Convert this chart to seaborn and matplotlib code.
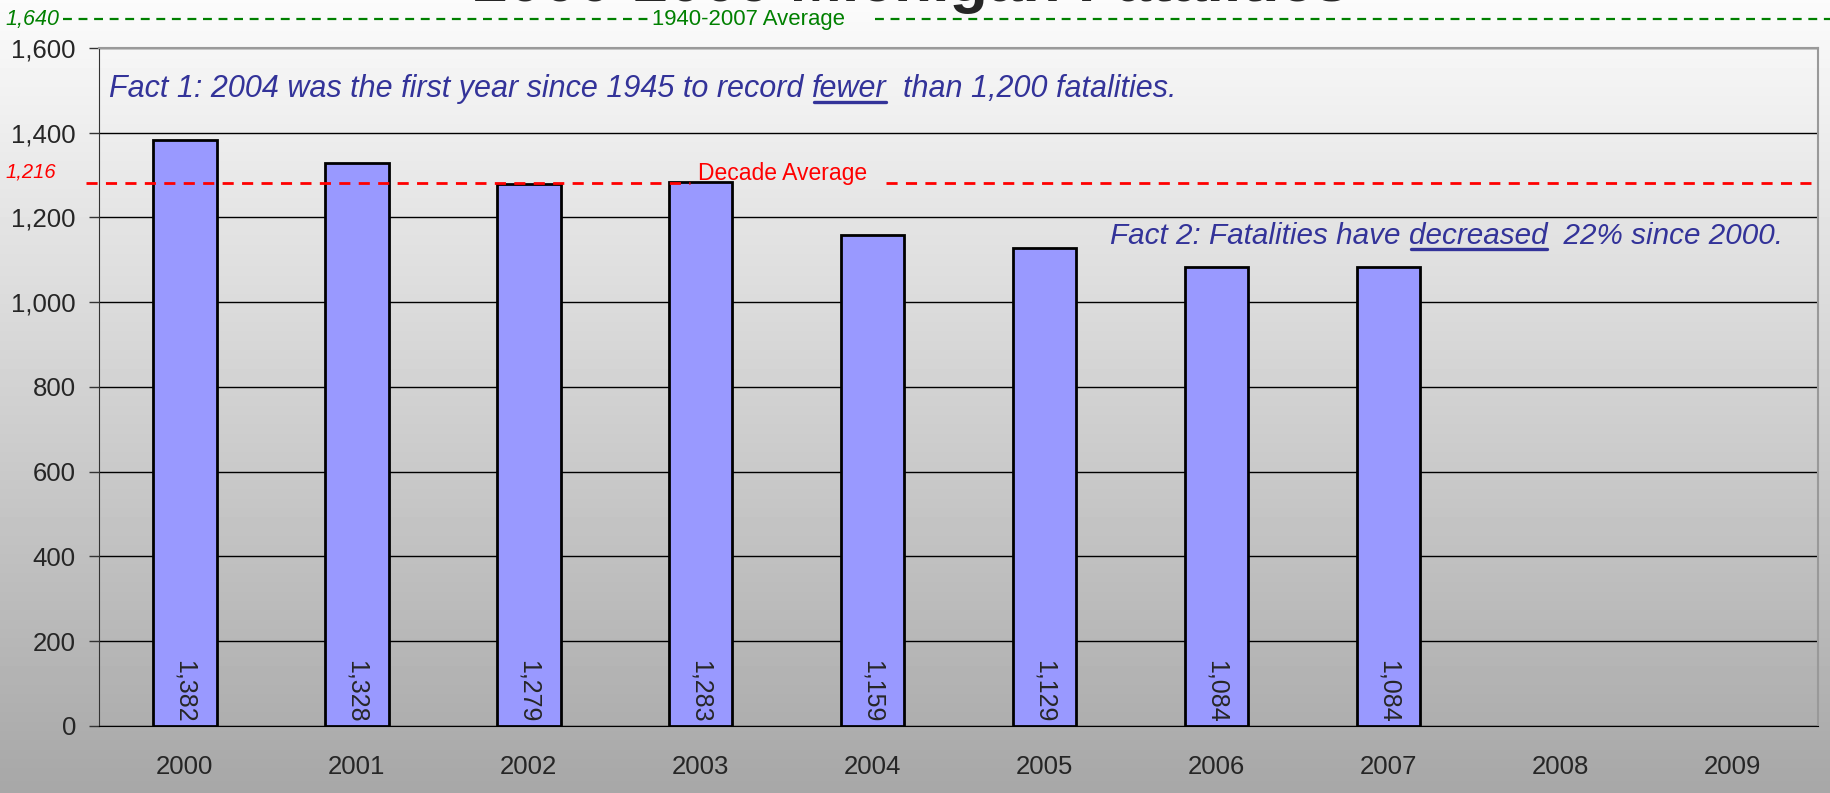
import numpy as np
import pandas as pd
import seaborn as sns
import matplotlib.pyplot as plt
from matplotlib.transforms import blended_transform_factory

# data
years = ["2000", "2001", "2002", "2003", "2004", "2005", "2006", "2007", "2008", "2009"]
fatalities = [1382, 1328, 1279, 1283, 1159, 1129, 1084, 1084, np.nan, np.nan]
bar_labels = ["1,382", "1,328", "1,279", "1,283", "1,159", "1,129", "1,084", "1,084", "", ""]
long_avg_level = 1668      # where the green line is drawn
long_avg_label = "1,640"
decade_avg_level = 1281    # where the red line is drawn
decade_avg_label = "1,216"
y_ticks = [0, 200, 400, 600, 800, 1000, 1200, 1400, 1600]

df = pd.DataFrame({"year": years, "fatalities": fatalities})

sns.set_style("white")
plt.rcParams["font.family"] = ["Liberation Sans", "DejaVu Sans"]

W, H = 1831, 793
fig = plt.figure(figsize=(W / 100, H / 100), dpi=100)

# gradient background over whole figure
bg = fig.add_axes([0, 0, 1, 1], zorder=-10)
grad = np.linspace(0.985, 0.655, 256).reshape(-1, 1)
bg.imshow(grad, aspect="auto", cmap="gray", vmin=0, vmax=1, extent=[0, 1, 0, 1])
bg.axis("off")

ax = fig.add_axes([0.054, 0.0845, 0.939, 0.855])
ax.set_facecolor("none")

sns.barplot(data=df, x="year", y="fatalities", order=years, color="#9999ff",
            saturation=1, width=0.37, edgecolor="black", linewidth=2, ax=ax, zorder=3)

ax.set_ylim(0, 1600)
ax.set_xlim(-0.5, 9.5)
ax.set_yticks(y_ticks)
ax.set_yticklabels([f"{v:,}" for v in y_ticks], fontsize=18.5)
ax.set_xticks(range(len(years)))
ax.set_xticklabels(years, fontsize=18.5)
ax.set_xticks(np.arange(-0.5, 10, 1), minor=True)
ax.tick_params(axis="x", which="major", length=0, pad=21)
ax.tick_params(axis="x", which="minor", length=7, width=1, color="#333333", direction="out")
ax.tick_params(axis="y", length=7, width=1, color="#333333", direction="out", left=True, pad=9.5)
ax.set_xlabel("")
ax.set_ylabel("")
ax.yaxis.grid(True, color="black", linewidth=1)
ax.set_axisbelow(True)
for side in ["top", "right"]:
    ax.spines[side].set_color("#999999")
    ax.spines[side].set_linewidth(1.5)
ax.spines["left"].set_color("#333333")
ax.spines["bottom"].set_color("black")

# value labels at the foot of each bar
for i, lab in enumerate(bar_labels):
    if lab:
        ax.text(i, 8, lab, rotation=270, ha="center", va="bottom", fontsize=18, zorder=5)

# reference lines
trans = blended_transform_factory(fig.transFigure, ax.transData)
dash = dict(linestyle=(0, (4, 3)), clip_on=False, transform=trans, zorder=4)
ax.plot([0.0344, 0.354], [long_avg_level] * 2, color="green", linewidth=1.6, **dash)
ax.plot([0.478, 1.0], [long_avg_level] * 2, color="green", linewidth=1.6, **dash)
ax.text(0.356, long_avg_level, "1940-2007 Average", color="green", fontsize=15.9,
        ha="left", va="center", transform=trans)
ax.text(0.003, long_avg_level, long_avg_label, color="green", fontsize=15.5, style="italic",
        ha="left", va="center", transform=trans)

ax.plot([0.047, 0.377], [decade_avg_level] * 2, color="red", linewidth=2, **dash)
ax.plot([0.484, 0.993], [decade_avg_level] * 2, color="red", linewidth=2, **dash)
ax.text(0.381, decade_avg_level - 5, "Decade Average", color="red", fontsize=16.5,
        ha="left", va="bottom", transform=trans)
ax.text(0.003, decade_avg_level + 5, decade_avg_label, color="red", fontsize=14.5, style="italic",
        ha="left", va="bottom", transform=trans)

# title, mostly cut off at the top
fig.text(0.4975, 1 - 0.5 / H, "2000-2009 Michigan Fatalities", fontsize=45,
         fontweight="bold", ha="center", va="baseline")

renderer = fig.canvas.get_renderer()


def fact(x_px, base_px, parts, size):
    # lay text pieces side by side on one baseline, underline the marked ones
    blue = "#333399"
    x = x_px
    y = 1 - base_px / H
    for txt, under in parts:
        t = fig.text(x / W, y, txt, color=blue, fontsize=size, style="italic",
                     ha="left", va="baseline")
        bb = t.get_window_extent(renderer)
        if under:
            uy = y - 5 / H
            fig.add_artist(plt.Line2D([(bb.x0 + 2) / W, (bb.x0 + bb.width) / W], [uy, uy],
                                      color=blue, linewidth=2.4))
        x += bb.width


fact(109, 97, [("Fact 1: 2004 was the first year since 1945 to record ", False),
               ("fewer", True), ("  than 1,200 fatalities.", False)], 22)
fact(1110, 244, [("Fact 2: Fatalities have ", False), ("decreased", True),
                 ("  22% since 2000.", False)], 21.3)

fig.savefig("out.png", dpi=100)
